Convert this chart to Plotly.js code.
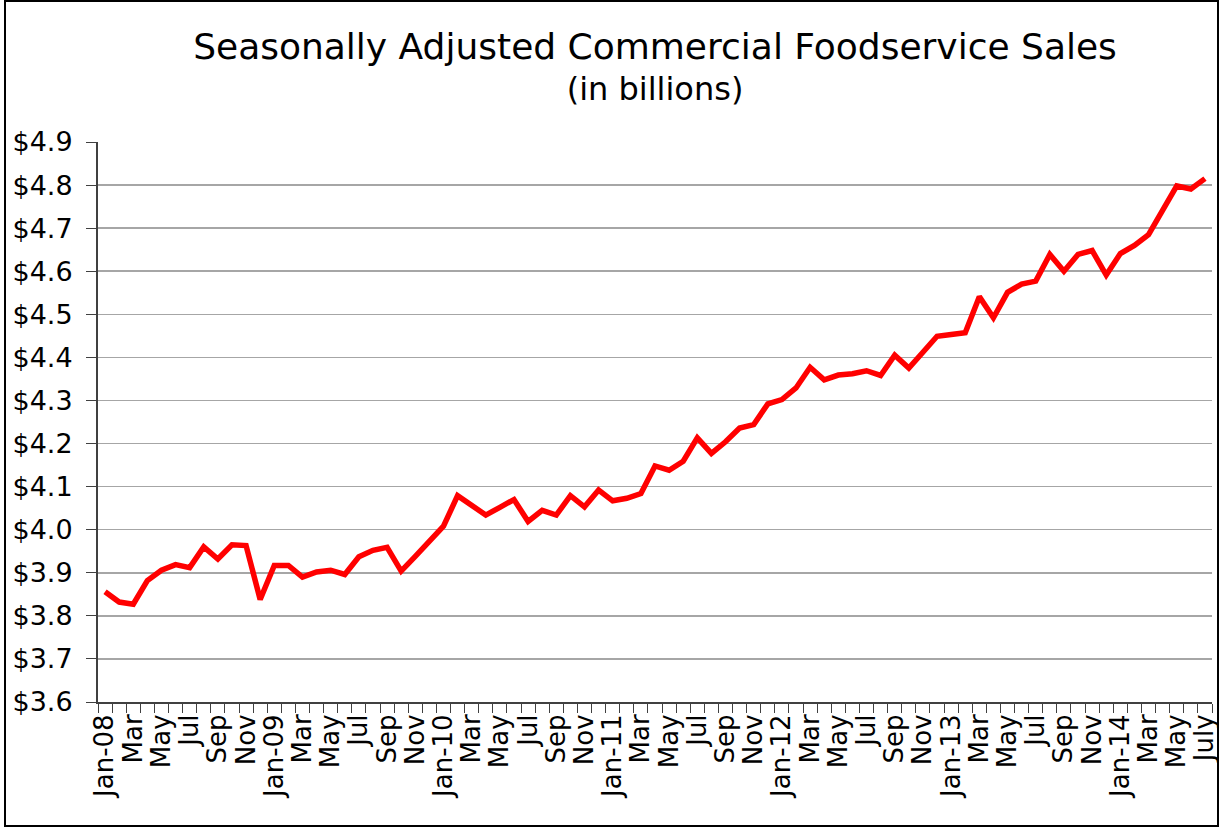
<!DOCTYPE html>
<html>
<head>
<meta charset="utf-8">
<script src="https://cdn.plot.ly/plotly-3.0.1.min.js"></script>
<style>
  html, body { margin: 0; padding: 0; background: #fff; }
  #wrap { position: relative; width: 1219px; height: 827px; }
  #chart { width: 1219px; height: 827px; }
  #frame { position: absolute; left: 4px; top: 0px; width: 1211px; height: 823px; border: 2px solid #000; pointer-events: none; }
</style>
</head>
<body>
<div id="wrap"><div id="chart"></div><div id="frame"></div></div>
<script>
// Monthly categories Jan-08 .. July 2014
const months = [
  "Jan-08","Feb","Mar","Apr","May","Jun","Jul","Aug","Sep","Oct","Nov","Dec",
  "Jan-09","Feb","Mar","Apr","May","Jun","Jul","Aug","Sep","Oct","Nov","Dec",
  "Jan-10","Feb","Mar","Apr","May","Jun","Jul","Aug","Sep","Oct","Nov","Dec",
  "Jan-11","Feb","Mar","Apr","May","Jun","Jul","Aug","Sep","Oct","Nov","Dec",
  "Jan-12","Feb","Mar","Apr","May","Jun","Jul","Aug","Sep","Oct","Nov","Dec",
  "Jan-13","Feb","Mar","Apr","May","Jun","Jul","Aug","Sep","Oct","Nov","Dec",
  "Jan-14","Feb","Mar","Apr","May","Jun","July"
];

// Sales, $ billions (seasonally adjusted)
const sales = [
  3.856, 3.832, 3.827, 3.882, 3.906, 3.919, 3.912, 3.960, 3.932, 3.965, 3.963, 3.838,
  3.917, 3.917, 3.890, 3.902, 3.906, 3.896, 3.937, 3.952, 3.959, 3.904, 3.938, 3.971,
  4.008, 4.079, 4.057, 4.034, 4.052, 4.070, 4.019, 4.045, 4.034, 4.079, 4.053, 4.092,
  4.067, 4.073, 4.084, 4.148, 4.138, 4.159, 4.213, 4.177, 4.204, 4.236, 4.244, 4.292,
  4.302, 4.329, 4.377, 4.348, 4.359, 4.362, 4.369, 4.358, 4.405, 4.375, 4.412, 4.449,
  4.453, 4.457, 4.541, 4.492, 4.551, 4.570, 4.577, 4.639, 4.600, 4.639, 4.648, 4.591,
  4.641, 4.660, 4.685, 4.742, 4.798, 4.791, 4.815
];

const yTicks = [3.6, 3.7, 3.8, 3.9, 4.0, 4.1, 4.2, 4.3, 4.4, 4.5, 4.6, 4.7, 4.8, 4.9];

const idx = months.map((m, i) => i);
const labelIdx = idx.filter(i => i % 2 === 0);
const labelText = labelIdx.map(i => months[i]);
const boundaries = idx.concat([months.length]).map(i => i - 0.5);

const FONT = "DejaVu Sans, Verdana, sans-serif";

const trace = {
  x: idx,
  y: sales,
  type: "scatter",
  mode: "lines",
  line: { color: "#ff0000", width: 5.5 },
  hoverinfo: "skip",
  showlegend: false
};

const layout = {
  width: 1219,
  height: 827,
  margin: { l: 98, r: 7, t: 142, b: 125 },
  paper_bgcolor: "#ffffff",
  plot_bgcolor: "#ffffff",
  font: { family: FONT, color: "#000000" },
  title: {
    text: "<span style='font-size:36px'>Seasonally Adjusted Commercial Foodservice Sales</span><br>(in billions)",
    font: { family: FONT, size: 32, color: "#000000" },
    x: 0.5, xref: "paper", xanchor: "center",
    y: 0.929, yref: "container", yanchor: "top"
  },
  xaxis: {
    range: [-0.5, months.length - 0.5],
    tickmode: "array",
    tickvals: labelIdx,
    ticktext: labelText,
    tickangle: -90,
    ticks: "",
    ticklabeloverflow: "allow",
    tickfont: { family: FONT, size: 26, color: "#000000" },
    showgrid: false,
    zeroline: false,
    showline: true,
    linecolor: "#404040",
    linewidth: 2,
    minor: {
      tickmode: "array",
      tickvals: boundaries,
      ticks: "outside",
      ticklen: 9,
      tickwidth: 1,
      tickcolor: "#404040",
      showgrid: false
    },
    fixedrange: true
  },
  yaxis: {
    range: [3.6, 4.9],
    tickmode: "array",
    tickvals: yTicks,
    ticktext: yTicks.map(v => "$" + v.toFixed(1)),
    ticks: "outside",
    ticklen: 10,
    tickwidth: 1,
    tickcolor: "#404040",
    ticklabelstandoff: 8,
    tickfont: { family: FONT, size: 27, color: "#000000" },
    showgrid: true,
    gridcolor: "#a6a6a6",
    gridwidth: 1.5,
    zeroline: false,
    showline: true,
    linecolor: "#404040",
    linewidth: 2,
    fixedrange: true
  }
};

Plotly.newPlot("chart", [trace], layout, { staticPlot: true, displayModeBar: false });
</script>
</body>
</html>
